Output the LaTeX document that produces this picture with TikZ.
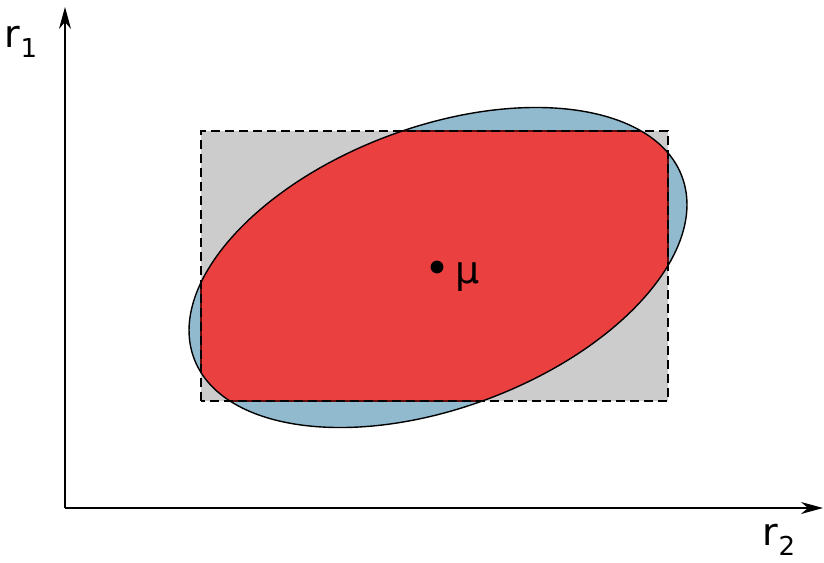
\documentclass[tikz,border=0pt]{standalone}
\usepackage{fontspec}
\setmainfont{DejaVu Sans}
\usetikzlibrary{arrows.meta, positioning}
\definecolor{ellblue}{RGB}{145,186,206}
\definecolor{boxgray}{RGB}{204,204,204}
\definecolor{isecred}{RGB}{234,64,64}
\definecolor{isecedge}{RGB}{100,10,10}
\newcommand{\sublbl}[1]{\raisebox{-0.45ex}{\fontsize{13}{13}\selectfont #1}}

\begin{document}
\begin{tikzpicture}[x=0.5pt, y=-0.5pt,
    axis/.style={-{Stealth[length=11pt, width=6pt, inset=3.5pt]}, line width=0.6pt},
    lbl/.style={font=\fontsize{19}{21}\selectfont, inner sep=0pt},
    boxline/.style={dash pattern=on 4.5pt off 2.5pt, line width=1pt},
    ellline/.style={line width=0.7pt},
    ellrot/.style={shift={(438,267.5)}, rotate=20.4},
]
    \useasboundingbox (0,0) rectangle (824,562);

    % Axes
    \coordinate (origin) at (65,508);
    \coordinate (ytip) at (65,7);
    \coordinate (xtip) at (823,508);
    \draw[axis] (origin) -- (ytip);
    \draw[axis] (origin) -- (xtip);
    \node[lbl] (r1) at (21,42) {r\sublbl{1}};
    \node[lbl] (r2) at (779,540) {r\sublbl{2}};

    % Box and ellipse
    \coordinate (boxsw) at (201,401);
    \coordinate (boxne) at (668,131);
    \fill[boxgray] (boxsw) rectangle (boxne);
    \fill[ellblue, ellrot] (0,0) ellipse [x radius=260.4, y radius=140.6];
    % Intersection
    \begin{scope}
        \clip[ellrot] (0,0) ellipse [x radius=260.4, y radius=140.6];
        \fill[isecred, draw=isecedge, line width=1.4pt] (boxsw) rectangle (boxne);
    \end{scope}
    \draw[ellline, ellrot] (0,0) ellipse [x radius=260.4, y radius=140.6];
    \draw[boxline] (boxsw) rectangle (boxne);

    % Mean
    \fill (437,267) circle (3.2pt) coordinate (mu);
    \node[lbl, right=9pt of mu, yshift=-5pt] (mulbl) {μ};
\end{tikzpicture}
\end{document}
